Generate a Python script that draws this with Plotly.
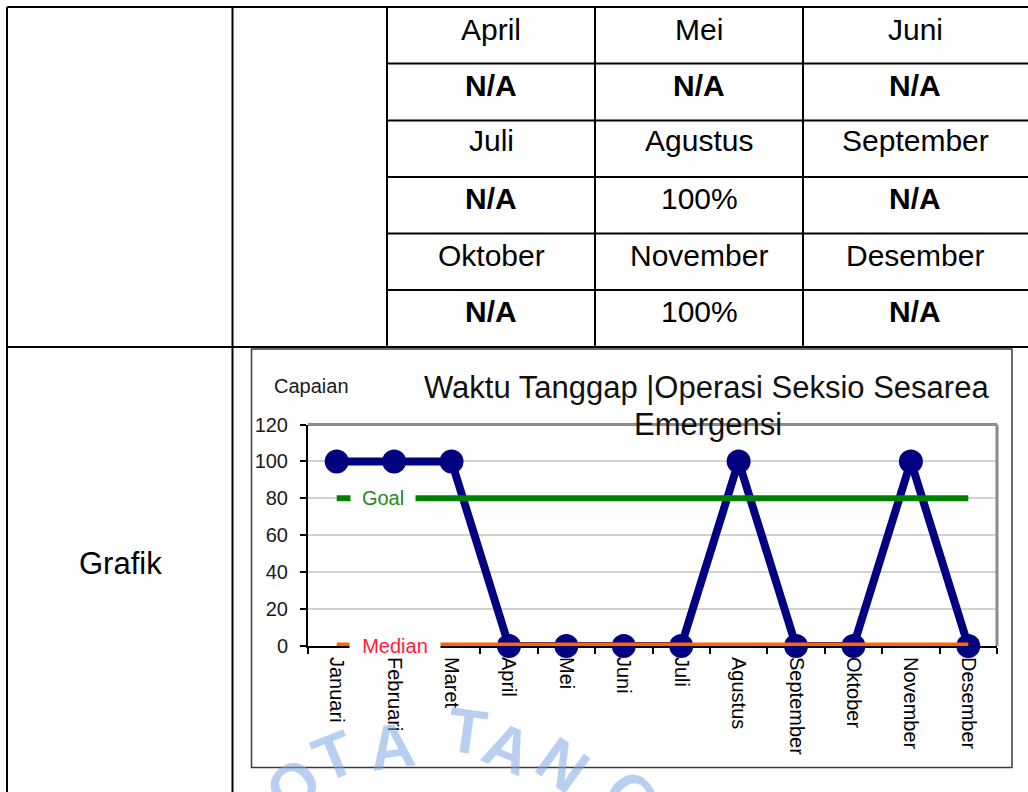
import plotly.graph_objects as go

# ---------------- data ----------------
months = ["Januari", "Februari", "Maret", "April", "Mei", "Juni", "Juli",
          "Agustus", "September", "Oktober", "November", "Desember"]
capaian = [100, 100, 100, 0, 0, 0, 0, 100, 0, 0, 100, 0]
goal = [80, 80, 80, 80, 80, 80, 80, 80, 80, 80, 80, 80]
median = [0, 0, 0, 0, 0, 0, 0, 0, 0, 0, 0, 0]
y_ticks = [0, 20, 40, 60, 80, 100, 120]

table_month_rows = [["April", "Mei", "Juni"],
                    ["Juli", "Agustus", "September"],
                    ["Oktober", "November", "Desember"]]
table_value_rows = [["N/A", "N/A", "N/A"],
                    ["N/A", "100%", "N/A"],
                    ["N/A", "100%", "N/A"]]

chart_title_1 = "Waktu Tanggap |Operasi Seksio Sesarea"
chart_title_2 = "Emergensi"
y_title = "Capaian"
row_label = "Grafik"
watermark = ["O", "T", "A", "T", "A", "N", "G"]

# ---------------- geometry helpers ----------------
W, H = 1028, 792
FONT = "Arial, Liberation Sans, sans-serif"


def px(x):
    return x / W


def py(y):
    return 1 - y / H


fig = go.Figure()

fig.add_trace(go.Scatter(
    x=months, y=capaian, mode="lines+markers", cliponaxis=False,
    line=dict(color="#000080", width=8),
    marker=dict(size=24, color="#000080"), hoverinfo="x+y"))
fig.add_trace(go.Scatter(
    x=months, y=goal, mode="lines", cliponaxis=False,
    line=dict(color="#008000", width=6)))
fig.add_trace(go.Scatter(
    x=months, y=median, mode="lines", cliponaxis=False,
    line=dict(color="#ff6600", width=7)))

shapes = []


def hline(y, x0, x1, color="black", width=2):
    shapes.append(dict(type="line", xref="paper", yref="paper",
                       x0=px(x0), x1=px(x1), y0=py(y), y1=py(y),
                       line=dict(color=color, width=width)))


def vline(x, y0, y1, color="black", width=2):
    shapes.append(dict(type="line", xref="paper", yref="paper",
                       x0=px(x), x1=px(x), y0=py(y0), y1=py(y1),
                       line=dict(color=color, width=width)))


# table grid
hline(7, 7, W)
for yy in [63.5, 120.5, 177, 233.5, 290]:
    hline(yy, 387, W)
hline(347, 7, W)
vline(7, 7, H)
vline(232.5, 7, H)
vline(387, 7, 347)
vline(595, 7, 347)
vline(803, 7, 347)

# chart area border
shapes.append(dict(type="rect", xref="paper", yref="paper",
                   x0=px(251.5), x1=px(1012), y0=py(767.5), y1=py(349),
                   line=dict(color="#3a3a3a", width=1.5)))
# plot area top/right frame
hline(424.5, 308, 997, color="#8a8a8a", width=3)
vline(997, 424.5, 646, color="#8a8a8a", width=3)

annotations = []

# watermark (translucent)
wm_pos = [(293, 786, -40), (334, 756, -22), (392, 746, -8), (467, 731, 8),
          (508, 748, 22), (563, 765, 36), (632, 797, 52)]
for ch, (xx, yy, ang) in zip(watermark, wm_pos):
    annotations.append(dict(text="<b>%s</b>" % ch, xref="paper", yref="paper",
                            x=px(xx), y=py(yy), xanchor="center", yanchor="middle",
                            showarrow=False, textangle=ang,
                            font=dict(family=FONT, size=63, color="rgba(125,168,228,0.55)")))

col_x = [491, 699, 915]
month_y = [30, 141, 255]
value_y = [86, 198, 311]
for r in range(3):
    for c in range(3):
        annotations.append(dict(text=table_month_rows[r][c], xref="paper", yref="paper",
                                x=px(col_x[c]), y=py(month_y[r]), xanchor="center",
                                yanchor="middle", showarrow=False,
                                font=dict(family=FONT, size=30, color="black")))
        v = table_value_rows[r][c]
        txt = "<b>%s</b>" % v if v == "N/A" else v
        annotations.append(dict(text=txt, xref="paper", yref="paper",
                                x=px(col_x[c]), y=py(value_y[r]), xanchor="center",
                                yanchor="middle", showarrow=False,
                                font=dict(family=FONT, size=30, color="black")))

annotations.append(dict(text=row_label, xref="paper", yref="paper",
                        x=px(120), y=py(563), xanchor="center", yanchor="middle",
                        showarrow=False, font=dict(family=FONT, size=31, color="black")))

annotations.append(dict(text=y_title, xref="paper", yref="paper",
                        x=px(311), y=py(386), xanchor="center", yanchor="middle",
                        showarrow=False, font=dict(family=FONT, size=20, color="#1a1a1a")))
annotations.append(dict(text=chart_title_1, xref="paper", yref="paper",
                        x=px(706.5), y=py(388), xanchor="center", yanchor="middle",
                        showarrow=False, font=dict(family=FONT, size=31, color="#111111")))
annotations.append(dict(text=chart_title_2, xref="paper", yref="paper",
                        x=px(708), y=py(424), xanchor="center", yanchor="middle",
                        showarrow=False, font=dict(family=FONT, size=31, color="#111111")))

# series labels with white background
annotations.append(dict(text="Goal", xref="x", yref="y", x=0.81, y=80,
                        xanchor="center", yanchor="middle", showarrow=False,
                        bgcolor="white", width=62, height=20,
                        font=dict(family=FONT, size=20, color="#1f8a1f")))
annotations.append(dict(text="Median", xref="x", yref="y", x=1.01, y=0,
                        xanchor="center", yanchor="middle", showarrow=False,
                        bgcolor="white", width=88, height=18,
                        font=dict(family=FONT, size=20, color="#ff1a3a")))

fig.update_layout(
    width=W, height=H, autosize=False,
    margin=dict(l=0, r=0, t=0, b=0, pad=0, autoexpand=False),
    paper_bgcolor="white", plot_bgcolor="white",
    showlegend=False,
    shapes=shapes, annotations=annotations,
    font=dict(family=FONT, color="black"),
    xaxis=dict(domain=[px(308), px(997)], type="category", automargin=False,
               categoryorder="array", categoryarray=months,
               range=[-0.5, 11.5], showgrid=False, zeroline=False,
               showline=True, linecolor="black", linewidth=2,
               ticks="outside", tickson="boundaries", ticklen=6, tickwidth=1.5,
               tickcolor="black", tickangle=90, ticklabelstandoff=5,
               tickfont=dict(family=FONT, size=20, color="black"),
               layer="below traces"),
    yaxis=dict(domain=[py(646), py(424.5)], range=[0, 120], automargin=False,
               tickvals=y_ticks, showgrid=True, gridcolor="#d2d2d2", gridwidth=1.5,
               zeroline=False, showline=True, linecolor="black", linewidth=2,
               ticks="outside", ticklen=6, tickwidth=1.5, tickcolor="black",
               ticklabelstandoff=8,
               tickfont=dict(family=FONT, size=20, color="#1a1a1a"),
               layer="below traces"),
)

fig.write_html(
    "out.html",
    config={"displayModeBar": False},
    post_script="document.body.style.margin='0';document.body.style.overflow='hidden';",
)
